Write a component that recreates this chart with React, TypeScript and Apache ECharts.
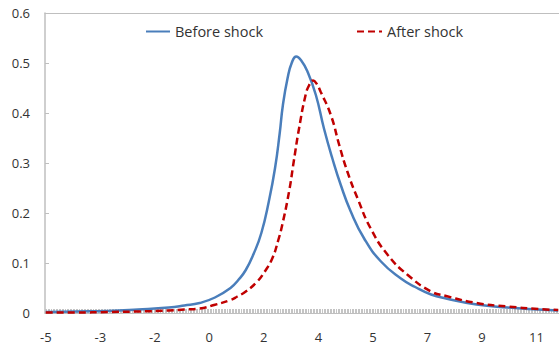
import React, { useEffect, useRef } from "react";
import * as echarts from "echarts";

// Category axis (dense ticks) description
const xStart = -5;
const xStep = 0.05;
const xCount = 330;
const xTickLabels = ["-5", "-3", "-2", "0", "2", "4", "5", "7", "9", "11"];
const labelEvery = 35;

// Before shock
const beforeX = [-5, -4.01, -3.02, -2.04, -1.05, -0.55, -0.06, 0.43, 0.93, 1.18, 1.42, 1.67, 1.92, 2.16, 2.36, 2.51, 2.61, 2.76, 2.9, 3.04, 3.2, 3.4, 3.67, 3.93, 4.2, 4.47, 4.79, 5.22, 5.76, 6.4, 6.86, 7.37, 7.85, 8.83, 9.82, 10.81, 11.45];
const beforeY = [0.002, 0.003, 0.004, 0.007, 0.011, 0.015, 0.02, 0.031, 0.05, 0.066, 0.086, 0.118, 0.16, 0.223, 0.29, 0.36, 0.415, 0.469, 0.501, 0.513, 0.505, 0.483, 0.436, 0.369, 0.309, 0.256, 0.203, 0.149, 0.103, 0.069, 0.052, 0.037, 0.029, 0.017, 0.011, 0.007, 0.005];

// After shock
const afterX = [-5, -4.01, -3.02, -2.04, -1.05, -0.55, -0.06, 0.4, 0.93, 1.15, 1.42, 1.79, 2.02, 2.27, 2.46, 2.59, 2.81, 2.96, 3.13, 3.34, 3.45, 3.58, 3.7, 3.82, 4.15, 4.42, 4.68, 5.01, 5.43, 5.98, 6.62, 7.37, 7.85, 8.83, 9.82, 10.81, 11.45];
const afterY = [0.001, 0.001, 0.002, 0.003, 0.005, 0.007, 0.009, 0.016, 0.026, 0.033, 0.043, 0.063, 0.082, 0.109, 0.145, 0.176, 0.243, 0.303, 0.369, 0.436, 0.455, 0.465, 0.458, 0.443, 0.396, 0.336, 0.283, 0.229, 0.169, 0.116, 0.076, 0.043, 0.034, 0.02, 0.013, 0.008, 0.006];

const seriesNames = ["Before shock", "After shock"];

export default function App() {
  const ref = useRef<HTMLDivElement>(null);
  useEffect(() => {
    document.body.style.margin = "0";
    if (!ref.current) return;
    const chart = echarts.init(ref.current, undefined, { renderer: "svg" });
    const xCategories = Array.from({ length: xCount }, (_, i) => (xStart + i * xStep).toFixed(2));
    const font = "'Open Sans', sans-serif";
    const axisGray = "#BFBFBF";
    const textColor = "#333333";
    const legendBase = {
      top: 24,
      padding: 0,
      itemHeight: 14,
      itemStyle: { opacity: 0 },
      textStyle: { fontFamily: font, fontSize: 14.5, color: textColor },
    };
    chart.setOption({
      animation: false,
      grid: { left: 45, right: 0, top: 13, bottom: 32, containLabel: false },
      legend: [
        { ...legendBase, data: [seriesNames[0]], left: 145, itemWidth: 24 },
        { ...legendBase, data: [seriesNames[1]], left: 356, itemWidth: 25 },
      ],
      xAxis: [
        {
          type: "category",
          data: xCategories,
          boundaryGap: true,
          axisLine: { show: true, lineStyle: { color: axisGray, width: 1 } },
          axisTick: { show: true, interval: 0, inside: true, length: 4, lineStyle: { color: "#C4C4C4" } },
          axisLabel: {
            interval: labelEvery - 1,
            margin: 17,
            fontFamily: font,
            fontSize: 13,
            color: textColor,
            formatter: (_v: string, idx: number) => xTickLabels[Math.round(idx / labelEvery)] ?? "",
          },
          splitLine: { show: false },
        },
        {
          type: "value",
          position: "top",
          min: xStart - xStep / 2,
          max: xStart - xStep / 2 + xCount * xStep,
          axisLine: { show: true, onZero: false, lineStyle: { color: axisGray, width: 1 } },
          axisTick: { show: false },
          axisLabel: { show: false },
          splitLine: { show: false },
        },
      ],
      yAxis: {
        type: "value",
        min: 0,
        max: 0.6,
        interval: 0.1,
        axisLine: { show: true, onZero: false, lineStyle: { color: axisGray, width: 1.5 } },
        axisTick: { show: true, inside: true, length: 4, lineStyle: { color: axisGray } },
        axisLabel: { margin: 15, fontFamily: font, fontSize: 13, color: textColor },
        splitLine: { show: false },
      },
      series: [
        {
          name: seriesNames[0],
          type: "line",
          xAxisIndex: 1,
          data: beforeX.map((x, i) => [x, beforeY[i]]),
          smooth: 0.5,
          symbol: "none",
          lineStyle: { color: "#4A7EBB", width: 2.5 },
          itemStyle: { color: "#4A7EBB" },
          z: 3,
        },
        {
          name: seriesNames[1],
          type: "line",
          xAxisIndex: 1,
          data: afterX.map((x, i) => [x, afterY[i]]),
          smooth: 0.5,
          symbol: "none",
          lineStyle: { color: "#C00000", width: 2.5, type: [7, 4] },
          itemStyle: { color: "#C00000" },
          z: 4,
        },
      ],
    });
    return () => chart.dispose();
  }, []);
  return <div ref={ref} style={{ width: 559, height: 345 }} />;
}
